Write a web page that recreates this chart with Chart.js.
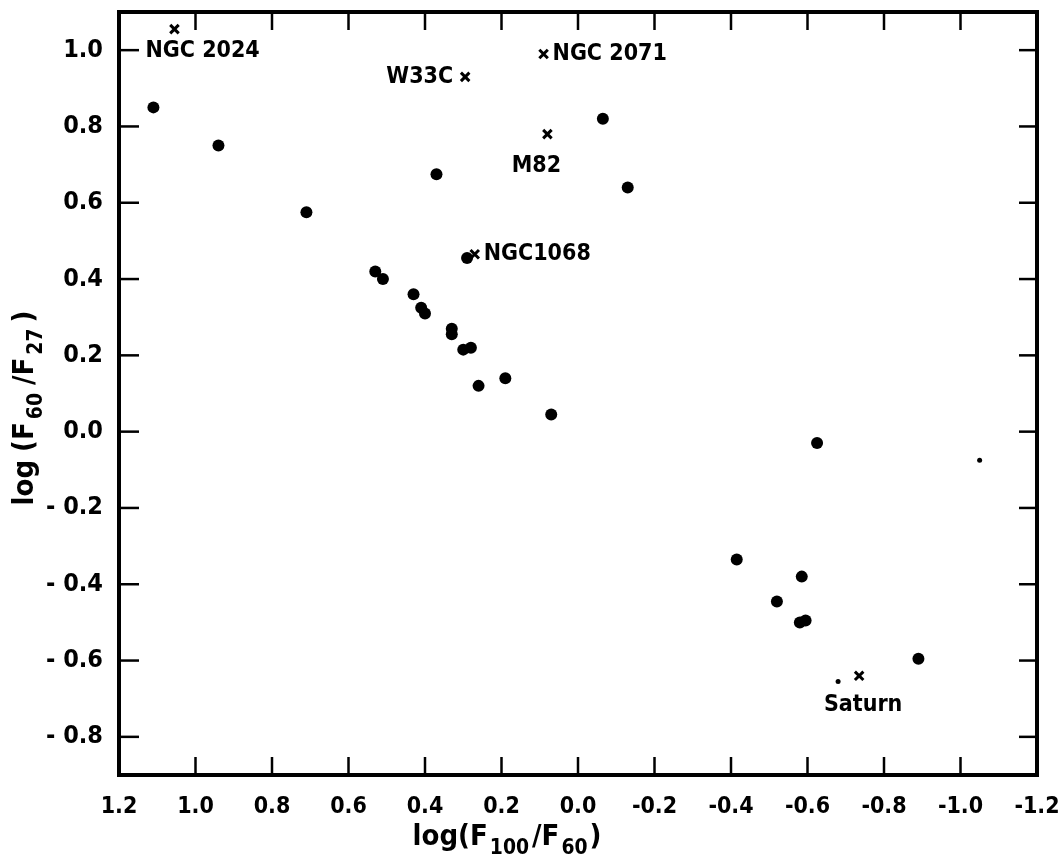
<!DOCTYPE html>
<html lang="en">
  <head>
    <meta charset="UTF-8" />
    <title>log(F60/F27) vs log(F100/F60)</title>
    <script src="https://cdn.jsdelivr.net/npm/chart.js"></script>
    <style>
      body { margin: 0; background: #fff; }
      #wrap { width: 1058px; height: 863px; }
    </style>
  </head>
  <body>
    <div id="wrap"><canvas id="plot"></canvas></div>

    <script>
      // filled circles
      const dotX = [1.11, 0.94, 0.71, 0.37, 0.53, 0.51, 0.43, 0.41, 0.40, 0.33, 0.33, 0.30, 0.28,
                    0.26, 0.19, 0.07, -0.065, -0.13, 0.29, -0.625, -0.415, -0.585, -0.52, -0.58,
                    -0.595, -0.89];
      const dotY = [0.85, 0.75, 0.575, 0.675, 0.42, 0.40, 0.36, 0.325, 0.31, 0.27, 0.255, 0.215,
                    0.22, 0.12, 0.14, 0.045, 0.82, 0.64, 0.455, -0.03, -0.335, -0.38, -0.445,
                    -0.50, -0.495, -0.595];
      // named sources (crosses)
      const crossNames = ["NGC 2024", "W33C", "NGC 2071", "M82", "NGC1068", "Saturn"];
      const crossX = [1.055, 0.295, 0.09, 0.08, 0.27, -0.735];
      const crossY = [1.055, 0.93, 0.99, 0.78, 0.465, -0.64];
      // faint marks
      const faintX = [-1.05, -0.68];
      const faintY = [-0.075, -0.655];

      const xTicks = [1.2, 1.0, 0.8, 0.6, 0.4, 0.2, 0.0, -0.2, -0.4, -0.6, -0.8, -1.0, -1.2];
      const yTicks = [1.0, 0.8, 0.6, 0.4, 0.2, 0.0, -0.2, -0.4, -0.6, -0.8];

      const FONT = "'DejaVu Sans Condensed', 'DejaVu Sans', sans-serif";

      function pts(xs, ys) {
        return xs.map((v, i) => ({ x: v, y: ys[i] }));
      }

      // label placement for the named crosses: dx, dy in px, text alignment
      const labelPlace = {
        "NGC 2024": [-29, 22, "left"],
        "W33C": [-12, 0, "right"],
        "NGC 2071": [9, 0, "left"],
        "M82": [-11, 32, "center"],
        "NGC1068": [9, 0, "left"],
        "Saturn": [4, 29, "center"],
      };

      function line(ctx, x1, y1, x2, y2) {
        ctx.beginPath();
        ctx.moveTo(x1, y1);
        ctx.lineTo(x2, y2);
        ctx.stroke();
      }

      // text with subscripts: parts = [[text, isSub, gapAfter], ...]
      function drawRich(ctx, parts, size) {
        let w = 0;
        parts.forEach(p => {
          ctx.font = "bold " + (p[1] ? size * 0.72 : size) + "px " + FONT;
          w += ctx.measureText(p[0]).width + p[2];
        });
        let x = -w / 2;
        parts.forEach(p => {
          ctx.font = "bold " + (p[1] ? size * 0.72 : size) + "px " + FONT;
          ctx.fillText(p[0], x, p[1] ? size * 0.3 : 0);
          x += ctx.measureText(p[0]).width + p[2];
        });
      }

      const decorations = {
        id: "decorations",
        afterDraw(chart) {
          const ctx = chart.ctx;
          const a = chart.chartArea;
          const sx = chart.scales.x;
          const sy = chart.scales.y;
          ctx.save();
          ctx.strokeStyle = "#000";
          ctx.fillStyle = "#000";
          ctx.lineWidth = 4;
          ctx.strokeRect(a.left, a.top, a.right - a.left, a.bottom - a.top);

          // inward ticks on all four sides
          ctx.lineWidth = 2.5;
          xTicks.forEach(v => {
            if (Math.abs(v) === 1.2) return;
            const px = sx.getPixelForValue(v);
            line(ctx, px, a.bottom, px, a.bottom - 18);
            line(ctx, px, a.top, px, a.top + 18);
          });
          yTicks.forEach(v => {
            const py = sy.getPixelForValue(v);
            line(ctx, a.left, py, a.left + 20, py);
            line(ctx, a.right, py, a.right - 18, py);
          });

          // names next to the crosses
          ctx.font = "bold 23px " + FONT;
          ctx.textBaseline = "middle";
          crossNames.forEach((name, i) => {
            const p = labelPlace[name];
            ctx.textAlign = p[2];
            ctx.fillText(name, sx.getPixelForValue(crossX[i]) + p[0], sy.getPixelForValue(crossY[i]) + p[1]);
          });

          // axis titles
          ctx.textAlign = "left";
          ctx.textBaseline = "alphabetic";
          ctx.save();
          ctx.translate(507, 845);
          drawRich(ctx, [["log(F", 0, 2], ["100", 1, 3], ["/F", 0, 2], ["60", 1, 2], [")", 0, 0]], 29);
          ctx.restore();
          ctx.save();
          ctx.translate(33, 408);
          ctx.rotate(-Math.PI / 2);
          drawRich(ctx, [["log", 0, 8], ["(F", 0, 3], ["60", 1, 8], ["/F", 0, 3], ["27", 1, 6], [")", 0, 0]], 29);
          ctx.restore();
          ctx.restore();
        },
      };

      window.onload = function () {
        const ctx = document.getElementById("plot");
        new Chart(ctx, {
          type: "scatter",
          data: {
            datasets: [
              {
                label: "sources",
                data: pts(dotX, dotY),
                pointStyle: "circle",
                pointRadius: 6,
                pointBorderWidth: 0,
                backgroundColor: "#000",
              },
              {
                label: "named",
                data: pts(crossX, crossY),
                pointStyle: "crossRot",
                pointRadius: 6,
                pointBorderWidth: 3,
                borderColor: "#000",
              },
              {
                label: "faint",
                data: pts(faintX, faintY),
                pointStyle: "circle",
                pointRadius: 2.5,
                pointBorderWidth: 0,
                backgroundColor: "#000",
              },
            ],
          },
          options: {
            responsive: true,
            maintainAspectRatio: false,
            animation: false,
            layout: { padding: { top: 12, right: 21, left: 0, bottom: 0 } },
            plugins: { legend: { display: false }, tooltip: { enabled: false } },
            scales: {
              x: {
                type: "linear",
                reverse: true,
                min: -1.2,
                max: 1.2,
                grid: { display: false },
                border: { display: false },
                afterBuildTicks: s => { s.ticks = xTicks.map(v => ({ value: v })); },
                afterFit: s => { s.height = 88; s.paddingLeft = 0; s.paddingRight = 0; },
                ticks: {
                  padding: 10,
                  color: "#000",
                  maxRotation: 0,
                  font: { family: FONT, size: 23, weight: "bold" },
                  callback: v => (v < 0 ? "-" + (-v).toFixed(1) : v.toFixed(1)),
                },
              },
              y: {
                type: "linear",
                min: -0.9,
                max: 1.1,
                grid: { display: false },
                border: { display: false },
                afterBuildTicks: s => { s.ticks = yTicks.map(v => ({ value: v })); },
                afterFit: s => { s.width = 119; s.paddingTop = 0; s.paddingBottom = 0; },
                ticks: {
                  padding: 8,
                  color: "#000",
                  font: { family: FONT, size: 25, weight: "bold" },
                  callback: v => (v < 0 ? "- " + (-v).toFixed(1) : v.toFixed(1)),
                },
              },
            },
          },
          plugins: [decorations],
        });
      };
    </script>
  </body>
</html>
